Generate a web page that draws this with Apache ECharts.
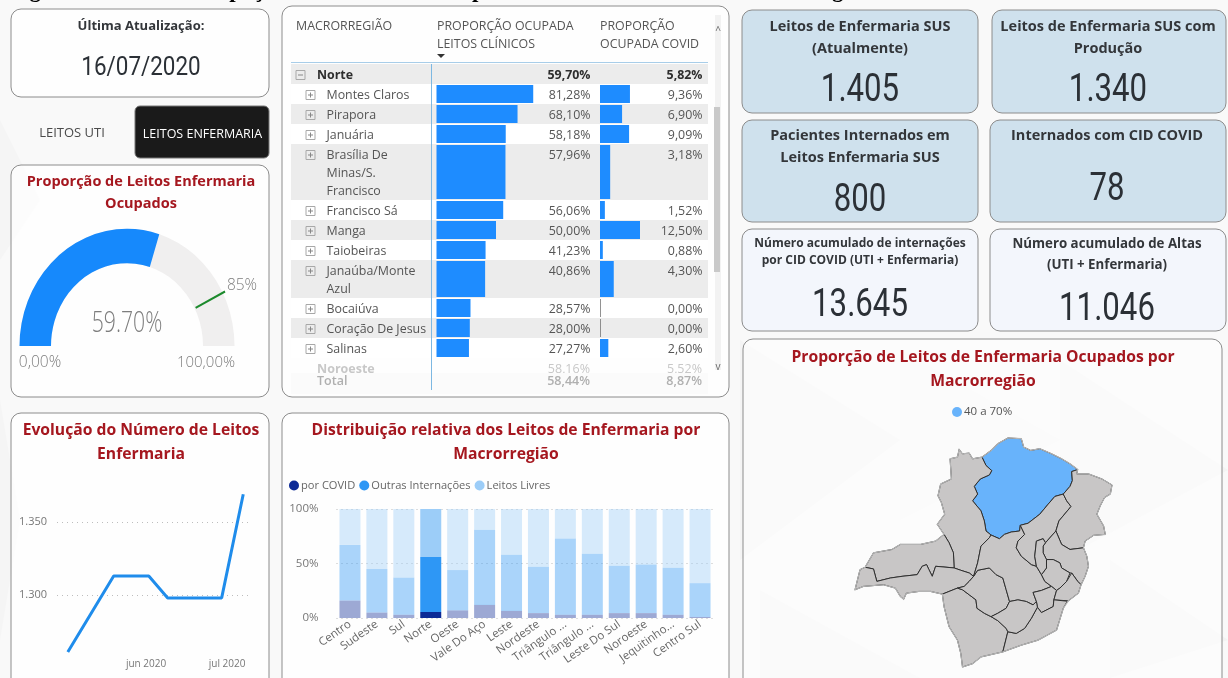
<!DOCTYPE html>
<html>
<head>
<meta charset="utf-8">
<style>html,body{margin:0;padding:0;background:#f8f8f8;overflow:hidden}#c{width:1228px;height:678px}</style>
<script src="https://cdn.jsdelivr.net/npm/echarts@6/dist/echarts.min.js"></script>
</head>
<body>
<div id="c"></div>
<script>
// ---------- DATA ----------
const lastUpdate = '16/07/2020';
const gaugeValue = 59.70;
const gaugeTarget = 85;

const tableNames = ['Norte','Montes Claros','Pirapora','Januária','Brasília De\nMinas/S.\nFrancisco','Francisco Sá','Manga','Taiobeiras','Janaúba/Monte\nAzul','Bocaiúva','Coração De Jesus','Salinas'];
const tableLines = [1,1,1,1,3,1,1,1,2,1,1,1];
const clinicalShare = [59.70,81.28,68.10,58.18,57.96,56.06,50.00,41.23,40.86,28.57,28.00,27.27];
const covidOccupied = [5.82,9.36,6.90,9.09,3.18,1.52,12.50,0.88,4.30,0.00,0.00,2.60];

const lineDates = ['2020-05-03','2020-05-20','2020-06-02','2020-06-09','2020-06-29','2020-07-07'];
const lineValues = [1261,1313,1313,1298,1298,1369];
const monthLabels = {5:'jun 2020',6:'jul 2020'};

const stackCategories = ['Centro','Sudeste','Sul','Norte','Oeste','Vale Do Aço','Leste','Nordeste','Triângulo ...','Triângulo ...','Leste Do Sul','Noroeste','Jequitinho...','Centro Sul'];
const covidShare = [16,5,3,5.5,7,12,6.5,4.5,3,3,4.5,4.5,3,1];
const otherShare = [51,40,34,50.5,37,69,51.5,42.5,70,56,43.5,44.5,43,31];
const freeShare = [33,55,63,44,56,19,42,53,27,41,52,51,54,68];
const highlighted = 'Norte';

const kpis = [
 {t:['Leitos de Enfermaria SUS','(Atualmente)'], v:'1.405'},
 {t:['Leitos de Enfermaria SUS com','Produção'], v:'1.340'},
 {t:['Pacientes Internados em','Leitos Enfermaria SUS'], v:'800'},
 {t:['Internados com CID COVID'], v:'78'},
 {t:['Número acumulado de internações','por CID COVID (UTI + Enfermaria)'], v:'13.645'},
 {t:['Número acumulado de Altas','(UTI + Enfermaria)'], v:'11.046'}
];

// macro-region outlines, traced in picture units (y down)
const mapRegions = {
 'Norte':[[483,175],[510,155],[530,135],[560,118],[600,120],[607,145],[628,155],[655,150],[690,165],[720,180],[745,195],[768,212],[750,218],[752,245],[745,262],[725,285],[700,292],[680,315],[655,345],[620,372],[597,378],[595,395],[570,398],[550,405],[535,418],[510,407],[495,395],[490,365],[480,335],[455,305],[470,285],[460,262],[478,240],[505,228],[512,215],[495,200]],
 'Noroeste':[[415,152],[425,165],[445,163],[455,180],[483,175],[495,200],[512,215],[505,228],[478,240],[460,262],[470,285],[455,305],[480,335],[490,365],[495,395],[510,407],[505,415],[480,440],[470,490],[458,530],[445,520],[420,512],[400,505],[398,460],[385,430],[370,405],[350,375],[372,345],[362,310],[352,290],[360,255],[392,240],[388,180],[410,175]],
 'Triângulo Do Norte':[[370,405],[385,430],[398,460],[400,505],[345,500],[335,530],[325,510],[318,495],[305,500],[290,525],[245,530],[210,535],[170,545],[160,508],[135,503],[160,460],[215,450],[240,435],[300,435],[345,425]],
 'Triângulo Do Sul':[[135,503],[160,508],[170,545],[210,535],[245,530],[290,525],[305,500],[318,495],[325,510],[335,530],[345,500],[400,505],[420,512],[445,520],[458,530],[445,545],[430,560],[410,565],[385,575],[365,583],[330,575],[295,575],[258,580],[250,598],[240,590],[225,565],[190,555],[130,560],[105,570],[120,510]],
 'Sul':[[365,583],[385,575],[410,565],[425,570],[445,585],[465,600],[468,625],[490,640],[510,650],[530,662],[555,685],[560,695],[545,755],[480,770],[455,790],[425,800],[420,760],[410,720],[385,680],[370,620]],
 'Oeste':[[445,545],[458,530],[470,512],[505,505],[525,525],[545,535],[555,570],[565,605],[555,625],[530,640],[510,650],[490,640],[468,625],[465,600],[445,585],[425,570],[410,565],[430,560]],
 'Centro':[[510,407],[535,418],[550,405],[570,398],[595,395],[597,378],[610,405],[590,425],[585,445],[600,470],[630,495],[645,500],[660,525],[670,545],[690,560],[660,572],[635,578],[645,605],[635,615],[615,605],[590,600],[565,605],[555,570],[545,535],[525,525],[505,505],[470,512],[458,530],[470,490],[480,440],[505,415]],
 'Jequitinhonha':[[597,378],[620,372],[655,345],[680,315],[700,292],[725,285],[735,305],[748,322],[712,365],[703,395],[672,430],[665,418],[645,425],[640,470],[645,500],[630,495],[600,470],[585,445],[590,425],[610,405]],
 'Nordeste':[[768,212],[765,225],[800,225],[840,240],[870,258],[865,285],[848,295],[835,320],[825,345],[845,380],[850,405],[815,408],[790,425],[785,445],[745,450],[720,435],[703,395],[712,365],[748,322],[735,305],[725,285],[745,262],[752,245],[750,218]],
 'Leste':[[703,395],[720,435],[745,450],[785,445],[795,470],[800,500],[790,530],[778,555],[768,545],[750,520],[745,520],[720,505],[715,490],[695,480],[675,480],[665,460],[665,440],[672,430]],
 'Vale Do Aço':[[675,480],[695,480],[715,490],[720,505],[745,520],[735,545],[715,565],[705,572],[690,560],[670,545],[660,525],[675,505]],
 'Centro Leste':[[645,500],[640,470],[645,425],[665,418],[672,430],[665,440],[665,460],[675,480],[675,505],[660,525]],
 'Leste Do Sul':[[635,578],[660,572],[690,560],[705,572],[697,600],[695,620],[660,638],[648,622],[645,605]],
 'Leste Sul':[[705,572],[715,565],[735,545],[750,520],[768,545],[778,555],[770,580],[740,603],[697,600]],
 'Sudeste':[[737,604],[725,625],[705,690],[650,720],[600,735],[545,755],[560,695],[585,700],[610,685],[630,655],[648,622],[660,638],[695,620],[697,600]],
 'Centro Sul':[[565,605],[590,600],[615,605],[635,615],[645,605],[648,622],[630,655],[610,685],[585,700],[560,695],[555,685],[530,662],[510,650],[530,640],[555,625]]
};
const mapOutline = [[483,175],[510,155],[530,135],[560,118],[600,120],[607,145],[628,155],[655,150],[690,165],[720,180],[745,195],[768,212],[765,225],[800,225],[840,240],[870,258],[865,285],[848,295],[835,320],[825,345],[845,380],[850,405],[815,408],[790,425],[785,445],[795,470],[800,500],[790,530],[778,555],[770,580],[740,603],[725,625],[705,690],[650,720],[600,735],[545,755],[480,770],[455,790],[425,800],[420,760],[410,720],[385,680],[370,620],[365,583],[330,575],[295,575],[258,580],[250,598],[240,590],[225,565],[190,555],[130,560],[105,570],[120,510],[135,503],[160,460],[215,450],[240,435],[300,435],[345,425],[370,405],[350,375],[372,345],[362,310],[352,290],[360,255],[392,240],[388,180],[410,175],[415,152],[425,165],[445,163],[455,180]];
const mapColor = '#68b3fb';
const mapValues = [{name:'Norte',value:59.7,itemStyle:{areaColor:mapColor}}];
const mapLegend = '40 a 70%';

// ---------- HELPERS ----------
const SANS = '"Open Sans"', NUM = 'Roboto';
const RED = '#a5171f', DARK = '#33363a';
const rowH = l => 2 + 18 * l;
let acc = 0;
const rowStart = tableLines.map(l => { const s = acc; acc += rowH(l); return s; });
const rowsTotal = acc;

function toGeo(rings){
  return {type:'FeatureCollection',features:Object.keys(rings).map(n=>({type:'Feature',properties:{name:n},geometry:{type:'Polygon',coordinates:[rings[n].concat([rings[n][0]]).map(p=>[p[0],-p[1]])]}}))};
}
echarts.registerMap('MG', toGeo(mapRegions));
echarts.registerMap('MGO', toGeo({outline:mapOutline}));

// text helper: y is the visual centre; Open Sans sits slightly high, hence the small nudge
const txt = (text,x,y,font,fill,align,z,sx) => {
  const yy = y + 1.5;
  const el = {type:'text',z:z||5,silent:true,style:{text,x,y:yy,font,fill,textAlign:align||'center',textVerticalAlign:'middle'}};
  if (sx) { el.scaleX = sx; el.originX = x; el.originY = yy; }
  return el;
};
const panel = (x,y,w,h,fill) => ({type:'rect',z:1,silent:true,shape:{x,y,width:w,height:h,r:10},style:{fill:fill||'rgba(255,255,255,.72)',stroke:'#8c8c8c',lineWidth:1}});
const tri = (pts,fill) => ({type:'polygon',z:0,silent:true,shape:{points:pts},style:{fill}});

const g = [];
g.push({type:'rect',z:0,silent:true,shape:{x:0,y:0,width:1228,height:678},style:{fill:'#f9f9f9'}});
g.push(tri([[740,340],[900,440],[740,560]],'#f4f4f4'),tri([[900,350],[1060,440],[900,520]],'#f5f5f5'),tri([[1060,360],[1228,470],[1060,560]],'#f4f4f4'),tri([[760,590],[920,678],[760,678]],'#f4f4f4'),tri([[1110,560],[1228,640],[1110,678]],'#f3f3f3'),tri([[0,120],[40,200],[0,260]],'#f5f5f5'),tri([[0,400],[20,520],[0,640]],'#f5f5f5'));

// cropped heading at the very top
g.push({type:'text',z:6,silent:true,style:{text:'Figura 1: Taxa de Ocupação de Leitos Clínicos por Leitos e Internados na Macrorregião em Minas Gerais',x:9,y:-20.5,font:'bold 23px "Liberation Serif"',fill:'#000',textAlign:'left',textVerticalAlign:'top'}});

// left column
g.push(panel(11,9,258,88));
g.push(txt('Última Atualização:',141,25,'bold 13px '+SANS,DARK));
g.push(txt(lastUpdate,141,67,'25.5px '+NUM,'#2b3036','center',5,.88));
g.push(txt('LEITOS UTI',72,132,'13px '+SANS,'#4a4a4a'));
g.push({type:'rect',z:1,silent:true,shape:{x:135,y:106,width:134,height:52,r:5},style:{fill:'#1a1a1a',stroke:'#777',lineWidth:1}});
g.push(txt('LEITOS ENFERMARIA',202.5,133,'12.5px '+SANS,'#fff'));
g.push(panel(11,165,258,232));
g.push(txt('Proporção de Leitos Enfermaria',141,180,'bold 14.5px '+SANS,RED));
g.push(txt('Ocupados',141,202,'bold 14.5px '+SANS,RED));
g.push(txt('0,00%',40,361,'300 15.5px '+SANS,'#7d7d7d'));
g.push(txt('100,00%',206,361,'300 15px '+SANS,'#7d7d7d'));
g.push(panel(11,413,258,290));
g.push(txt('Evolução do Número de Leitos',141,429,'bold 15.7px '+SANS,RED));
g.push(txt('Enfermaria',141,453,'bold 15.7px '+SANS,RED));

// table frame
g.push(panel(282,6,447,391,'rgba(255,255,255,.85)'));
const HEAD = '12.4px '+SANS;
g.push(txt('MACRORREGIÃO',296,25,HEAD,'#555','left'));
g.push(txt('PROPORÇÃO OCUPADA',437,25,HEAD,'#555','left'));
g.push(txt('LEITOS CLÍNICOS',437,43,HEAD,'#555','left'));
g.push(txt('PROPORÇÃO',600,25,HEAD,'#555','left'));
g.push(txt('OCUPADA COVID',600,43,HEAD,'#555','left'));
g.push({type:'polygon',z:5,silent:true,shape:{points:[[437,54],[445,54],[441,58]]},style:{fill:'#333'}});
g.push({type:'rect',z:5,silent:true,shape:{x:291,y:62,width:417,height:1},style:{fill:'#a8cde8'}});
g.push({type:'rect',z:4,silent:true,shape:{x:715,y:15,width:6,height:355},style:{fill:'#f2f2f2'}});
g.push({type:'rect',z:5,silent:true,shape:{x:714,y:107,width:6,height:165},style:{fill:'#c9c9c9'}});
g.push(txt('^',718,30,'10px '+SANS,'#666'));
g.push(txt('v',718,366,'10px '+SANS,'#666'));
g.push(txt('Noroeste',317,368,'bold 12.5px '+SANS,'#c8c8c8','left'));
g.push(txt('58,16%',590,368,'12.5px '+SANS,'#c8c8c8','right'));
g.push(txt('5,52%',702,368,'12.5px '+SANS,'#c8c8c8','right'));
g.push({type:'rect',z:6,silent:true,shape:{x:291,y:373,width:417,height:21},style:{fill:'#fbfbfb'}});
g.push(txt('Total',317,380,'600 12.5px '+SANS,'#b0b0b0','left',7));
g.push(txt('58,44%',590,380,'600 12.5px '+SANS,'#b0b0b0','right',7));
g.push(txt('8,87%',702,380,'600 12.5px '+SANS,'#b0b0b0','right',7));
g.push({type:'rect',z:7,silent:true,shape:{x:431,y:64,width:1,height:326},style:{fill:'#7db8e2'}});

// stacked panel
g.push(panel(282,413,447,290));
g.push(txt('Distribuição relativa dos Leitos de Enfermaria por',506,429,'bold 15.7px '+SANS,RED));
g.push(txt('Macrorregião',506,453,'bold 15.7px '+SANS,RED));

// KPI cards
const cardBox = [[742,10,236,103],[992,10,234,103],[742,120,236,102],[990,120,236,102],[742,229,236,102],[990,229,236,102]];
const cardText = [
 {f:14.5,ys:[25,47],vy:91.5},{f:14.5,ys:[25,47],vy:91.5},
 {f:14.5,ys:[134,156],vy:201.5},{f:14.5,ys:[134],vy:190.5},
 {f:12,ys:[242,259],vy:306.5},{f:13.3,ys:[243,264],vy:310}];
kpis.forEach((k,i)=>{
  const b = cardBox[i], c = cardText[i], cx = b[0]+b[2]/2-(i%2?1:0);
  g.push(panel(b[0],b[1],b[2],b[3], i<4 ? '#cfe1ed' : '#f3f6fc'));
  k.t.forEach((l,j)=>g.push(txt(l,cx,c.ys[j],'bold '+c.f+'px '+SANS,DARK)));
  g.push(txt(k.v,cx,c.vy-1.5,'38px '+NUM,'#2b3036','center',5,.82));
});

// map panel
g.push(panel(743,339,479,380,'rgba(255,255,255,.55)'));
g.push(txt('Proporção de Leitos de Enfermaria Ocupados por',983,356,'bold 15.7px '+SANS,RED));
g.push(txt('Macrorregião',983,380,'bold 15.7px '+SANS,RED));

// ---------- CUSTOM RENDERERS ----------
const GX = 127, GY = 346, GR = 107.5, GR0 = 76, GS = 1.09;
function gaugeRender(params, api){
  const v = api.value(0), target = api.value(1);
  const a = p => -Math.PI + Math.PI * p / 100;
  const sector = (p0,p1,fill) => ({type:'sector',x:GX,y:GY,scaleY:GS,shape:{cx:0,cy:0,r:GR,r0:GR0,startAngle:a(p0),endAngle:a(p1),clockwise:true},style:{fill}});
  const ta = a(target);
  const fmt = api.value(0).toFixed(2)+'%';
  return {type:'group',children:[
    sector(0,100,'#f0efef'),
    sector(0,v,'#1689fc'),
    {type:'line',x:GX,y:GY,scaleY:GS,shape:{x1:Math.cos(ta)*77,y1:Math.sin(ta)*77,x2:Math.cos(ta)*110,y2:Math.sin(ta)*110},style:{stroke:'#1c8a2c',lineWidth:2}},
    {type:'text',style:{text:target+'%',x:242,y:286,font:'300 15.5px '+SANS,fill:'#7d7d7d',textAlign:'center',textVerticalAlign:'middle'}},
    {type:'text',x:GX,y:324,scaleX:.73,style:{text:fmt,x:0,y:0,font:'300 29px '+SANS,fill:'#7d7d7d',textAlign:'center',textVerticalAlign:'middle'}}
  ]};
}
function rowRender(params, api){
  const i = params.dataIndex;
  const y0 = api.coord([0, rowStart[i]])[1], y1 = api.coord([0, rowStart[i]+rowH(tableLines[i])])[1];
  const top = i === 0;
  const shade = i % 2 === 0;
  const bx = top ? 296 : 306, tx = top ? 317 : 326.5;
  const font = (top ? 'bold ' : '') + '12.4px ' + SANS;
  const col = top ? '#2e2e2e' : '#555';
  const cy = y0 + 11;
  const t = (text,x,align) => ({type:'text',style:{text,x,y:y0+2,font,fill:col,textAlign:align,textVerticalAlign:'top',lineHeight:18}});
  return {type:'group',children:[
    {type:'rect',shape:{x:291,y:y0,width:417,height:y1-y0},style:{fill:shade?'#ececec':'#ffffff'}},
    {type:'rect',shape:{x:bx,y:cy-4.5,width:9,height:9},style:{fill:'none',stroke:'#a8a8a8',lineWidth:1}},
    {type:'line',shape:{x1:bx+2,y1:cy,x2:bx+7,y2:cy},style:{stroke:'#888',lineWidth:1}},
    top?{type:'group'}:{type:'line',shape:{x1:bx+4.5,y1:cy-2.5,x2:bx+4.5,y2:cy+2.5},style:{stroke:'#888',lineWidth:1}},
    t(tableNames[i],tx,'left'),
    t(clinicalShare[i].toFixed(2).replace('.',',')+'%',590.5,'right'),
    t(covidOccupied[i].toFixed(2).replace('.',',')+'%',702.5,'right')
  ]};
}
function barRender(params, api){
  const i = params.dataIndex;
  if (i === 0) return null;
  const a = api.coord([0, api.value(1)]), b = api.coord([api.value(0), api.value(2)]);
  return {type:'rect',shape:{x:a[0],y:a[1]+1,width:Math.max(b[0]-a[0],0.8),height:b[1]-a[1]-2},style:{fill:api.value(0)===0?'#777':'#1e8cff'}};
}
const rowsOf = arr => arr.map((v,i)=>[v,rowStart[i],rowStart[i]+rowH(tableLines[i])]);
const fade = (arr,op) => arr.map((v,i)=>stackCategories[i]===highlighted?v:{value:v,itemStyle:{opacity:op}});
const hiddenX = (grid,max) => ({gridIndex:grid,type:'value',min:0,max,show:false});
const hiddenY = grid => ({gridIndex:grid,type:'value',min:0,max:rowsTotal,inverse:true,show:false});
const dotted = {type:[1,4],color:'#bdbdbd',width:1};

const option = {
  animation:false,
  backgroundColor:'#f9f9f9',
  graphic:{elements:g},
  legend:[
    {data:['por COVID','Outras Internações','Leitos Livres'],left:289,top:480,icon:'circle',itemWidth:10,itemHeight:10,itemGap:4,selectedMode:false,padding:0,itemStyle:{borderWidth:0},textStyle:{fontFamily:SANS,fontSize:11.1,color:'#666',padding:[0,0,0,-3]}},
    {data:[mapLegend],left:952,top:406,icon:'circle',itemWidth:10,itemHeight:10,selectedMode:false,padding:0,itemStyle:{borderWidth:0},textStyle:{fontFamily:SANS,fontSize:11.5,color:'#555',padding:[0,0,0,-3]}}
  ],
  grid:[
    {left:436.5,top:64,width:119,height:rowsTotal},
    {left:600,top:64,width:100,height:rowsTotal},
    {left:57,top:449,width:193,height:219},
    {left:336.5,top:509,width:377,height:109}
  ],
  xAxis:[
    hiddenX(0,100),
    hiddenX(1,31.25),
    {gridIndex:2,z:3,type:'time',min:'2020-04-29',max:'2020-07-09 12:00',
      axisLine:{show:false},axisTick:{show:false},splitLine:{show:false},
      axisLabel:{margin:-9,fontFamily:SANS,fontSize:10,color:'#777',showMinLabel:false,showMaxLabel:false,hideOverlap:true,
        formatter:v=>{const d=new Date(v);return d.getDate()===1&&monthLabels[d.getMonth()]||'';}}},
    {gridIndex:3,z:3,type:'category',data:stackCategories,axisLine:{show:false},axisTick:{show:false},
      axisLabel:{rotate:35,interval:0,margin:5,fontFamily:SANS,fontSize:11.5,color:'#666'}}
  ],
  yAxis:[
    hiddenY(0),
    hiddenY(1),
    {gridIndex:2,z:3,type:'value',min:1250,max:1400,interval:50,axisLine:{show:false},axisTick:{show:false},
      splitLine:{showMinLine:false,showMaxLine:false,lineStyle:dotted},
      axisLabel:{showMinLabel:false,showMaxLabel:false,margin:10,fontFamily:SANS,fontSize:11,color:'#777',formatter:v=>String(v).replace(/(\d)(\d{3})$/,'$1.$2')}},
    {gridIndex:3,z:3,type:'value',min:0,max:100,interval:50,axisLine:{show:false},axisTick:{show:false},
      splitLine:{lineStyle:dotted},
      axisLabel:{margin:18,fontFamily:SANS,fontSize:11.5,color:'#777',formatter:'{value}%'}}
  ],
  series:[
    {type:'custom',coordinateSystem:'none',z:3,silent:true,clip:false,renderItem:gaugeRender,data:[[gaugeValue,gaugeTarget]]},
    {type:'custom',xAxisIndex:0,yAxisIndex:0,z:2,clip:false,silent:true,renderItem:rowRender,data:rowsOf(clinicalShare)},
    {type:'custom',xAxisIndex:0,yAxisIndex:0,z:3,clip:false,silent:true,renderItem:barRender,data:rowsOf(clinicalShare)},
    {type:'custom',xAxisIndex:1,yAxisIndex:1,z:3,clip:false,silent:true,renderItem:barRender,data:rowsOf(covidOccupied)},
    {type:'line',xAxisIndex:2,yAxisIndex:2,z:4,showSymbol:false,lineStyle:{width:3,color:'#1f8ceb'},itemStyle:{color:'#1f8ceb'},data:lineDates.map((d,i)=>[d,lineValues[i]])},
    {name:'por COVID',type:'bar',stack:'s',xAxisIndex:3,yAxisIndex:3,z:4,barWidth:21,itemStyle:{color:'#0c2a96'},data:fade(covidShare,.4)},
    {name:'Outras Internações',type:'bar',stack:'s',xAxisIndex:3,yAxisIndex:3,z:4,barWidth:21,itemStyle:{color:'#2e97f5'},data:fade(otherShare,.4)},
    {name:'Leitos Livres',type:'bar',stack:'s',xAxisIndex:3,yAxisIndex:3,z:4,barWidth:21,itemStyle:{color:'#9ccdf8'},data:fade(freeShare,.4)},
    {name:mapLegend,type:'map',map:'MG',aspectScale:1,left:855,top:438,width:257,height:229,silent:true,showLegendSymbol:false,
      label:{show:false},itemStyle:{color:mapColor,areaColor:'#c8c6c6',borderColor:'#2f2f2f',borderWidth:1},
      emphasis:{disabled:true},select:{disabled:true},data:mapValues},
    {type:'map',map:'MGO',aspectScale:1,left:855,top:438,width:257,height:229,silent:true,z:3,showLegendSymbol:false,
      label:{show:false},itemStyle:{areaColor:'rgba(0,0,0,0)',borderColor:'#b4b4b4',borderWidth:1.2},
      emphasis:{disabled:true},select:{disabled:true},data:[]}
  ]
};
echarts.init(document.getElementById('c')).setOption(option);
</script>
</body>
</html>
